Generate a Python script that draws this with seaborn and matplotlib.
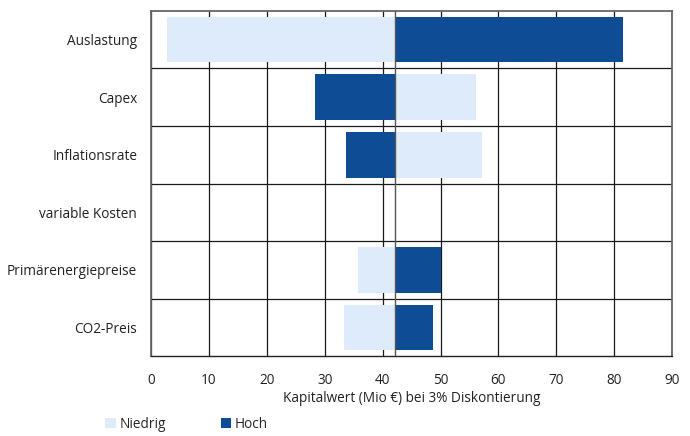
import numpy as np
import pandas as pd
import matplotlib
matplotlib.use("Agg")
import matplotlib.pyplot as plt
import seaborn as sns
from matplotlib.ticker import FixedLocator
from matplotlib.patches import Patch

categories = ["Auslastung", "Capex", "Inflationsrate", "variable Kosten",
              "Primärenergiepreise", "CO2-Preis"]
base = 42.2
niedrig = [2.8, 56.1, 57.2, 42.2, 35.7, 33.3]
hoch = [81.5, 28.3, 33.7, 42.2, 50.1, 48.7]
xticks = [0, 10, 20, 30, 40, 50, 60, 70, 80, 90]

c_low = "#deebfb"
c_high = "#0f4c96"

sns.set_theme(style="white")
plt.rcParams["font.family"] = ["Open Sans", "DejaVu Sans"]

df = pd.DataFrame({
    "cat": categories * 2,
    "scen": ["Niedrig"] * len(categories) + ["Hoch"] * len(categories),
    "delta": [v - base for v in niedrig] + [v - base for v in hoch],
})

fig = plt.figure(figsize=(6.9, 4.36), dpi=100)
ax = fig.add_axes([0.219, 0.183, 0.755, 0.792])

sns.barplot(data=df, y="cat", x="delta", hue="scen", dodge=False,
            palette={"Niedrig": c_low, "Hoch": c_high}, width=0.79,
            saturation=1, linewidth=0, edgecolor="none",
            orient="h", ax=ax, legend=False, zorder=3)

ax.set_xlim(0 - base, 90 - base)
ax.set_ylim(len(categories) - 0.5, -0.5)
ax.set_xticks([t - base for t in xticks])
ax.set_xticklabels([str(t) for t in xticks], fontsize=9.8, color="#222222")
ax.tick_params(axis="y", labelsize=9.8, labelcolor="#222222", length=0, pad=10)
ax.tick_params(axis="x", length=4, width=0.8, color="#222222", direction="out", pad=8)
ax.yaxis.set_minor_locator(FixedLocator(np.arange(0.5, len(categories) - 0.5, 1)))
ax.grid(axis="x", which="major", color="#1a1a1a", linewidth=0.9, zorder=1)
ax.grid(axis="y", which="minor", color="#1a1a1a", linewidth=0.9, zorder=1)
ax.tick_params(axis="y", which="minor", length=0)
ax.set_axisbelow(True)
ax.axvline(0, color="#555555", linewidth=1.0, zorder=4)

ax.set_ylabel("")
ax.set_xlabel("Kapitalwert (Mio €) bei 3% Diskontierung", fontsize=9.8, color="#222222", labelpad=2)
for s in ["top", "right", "left"]:
    ax.spines[s].set_color("#666666")
    ax.spines[s].set_linewidth(1.3)
ax.spines["bottom"].set_color("#222222")
ax.spines["bottom"].set_linewidth(1.0)

handles = [Patch(facecolor=c_low, edgecolor="none", label="Niedrig"),
           Patch(facecolor=c_high, edgecolor="none", label="Hoch")]
fig.legend(handles=handles, loc="lower left", bbox_to_anchor=(0.135, -0.018), ncol=2,
           frameon=False, fontsize=9.8, handlelength=0.75, handleheight=0.75,
           handletextpad=0.3, columnspacing=4.0)

fig.savefig("out.png", dpi=100)
